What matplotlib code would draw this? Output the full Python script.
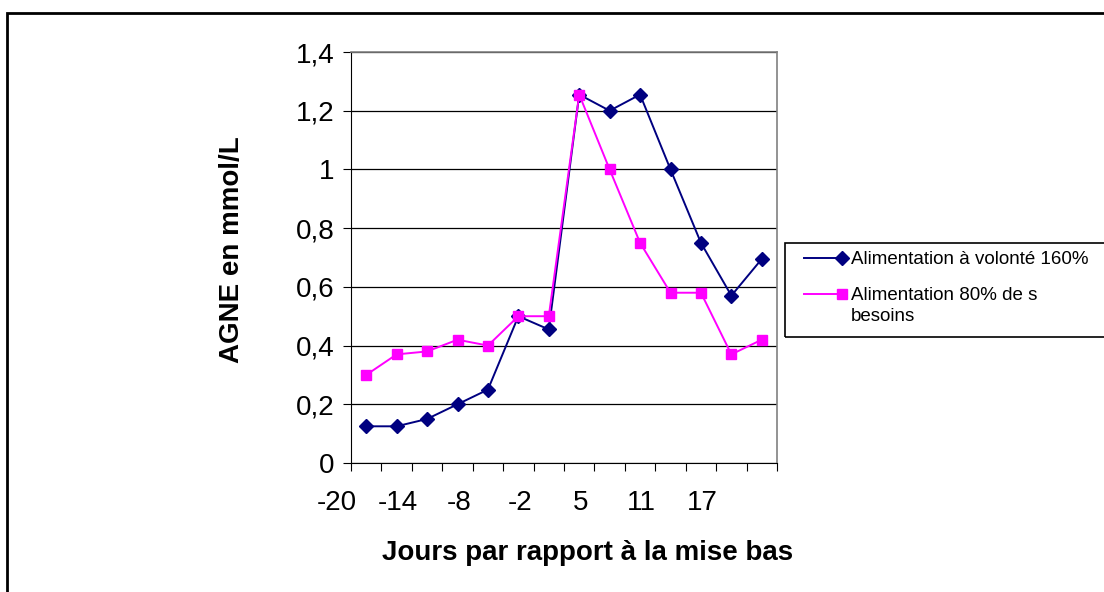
import matplotlib.pyplot as plt
import numpy as np
from matplotlib.legend_handler import HandlerLine2D
from matplotlib.patches import Rectangle
import matplotlib.transforms as mtransforms

plt.rcParams['font.family'] = ['Liberation Sans', 'DejaVu Sans']

# data
days = [-20, -17, -14, -11, -8, -5, -2, 2, 5, 8, 11, 14, 17, 20]
shown_days = [-20, -14, -8, -2, 5, 11, 17]
volonte = [0.125, 0.125, 0.15, 0.20, 0.25, 0.50, 0.455, 1.255, 1.20, 1.255, 1.00, 0.75, 0.57, 0.695]
besoins = [0.30, 0.37, 0.38, 0.42, 0.40, 0.50, 0.50, 1.255, 1.00, 0.75, 0.58, 0.58, 0.37, 0.42]
yticks = [0, 0.2, 0.4, 0.6, 0.8, 1.0, 1.2, 1.4]


class EndMarker(HandlerLine2D):
    # excel style: marker at the right end of the legend line, optional vertical shift (points)
    def __init__(self, yshift=0, **kw):
        super().__init__(**kw)
        self.yshift = yshift

    def create_artists(self, legend, orig_handle, xdescent, ydescent, width, height, fontsize, trans):
        arts = super().create_artists(legend, orig_handle, xdescent, ydescent, width, height, fontsize, trans)
        for a in arts:
            a.set_markevery([2])
            a.set_ydata(np.asarray(a.get_ydata()) + self.yshift)
        return arts


fig = plt.figure(figsize=(11.04, 5.92), dpi=100)
ax = fig.add_axes([351/1104, 1 - 463/592, (777-351)/1104, (463-52)/592])

x = np.arange(len(days))
l1, = ax.plot(x, volonte, color='#000080', lw=1.4, marker='D', ms=7, mfc='#000080', mec='#000080',
              label='Alimentation à volonté 160%')
l2, = ax.plot(x, besoins, color='#FF00FF', lw=1.4, marker='s', ms=7.5, mfc='#FF00FF', mec='#FF00FF',
              label='Alimentation 80% de s\nbesoins')

ax.set_xlim(-0.5, len(days) - 0.5)
ax.set_ylim(0, 1.4)
ax.set_yticks(yticks)
ax.set_yticklabels([('%g' % v).replace('.', ',') for v in yticks], fontsize=20)
ax.yaxis.grid(True, color='black', lw=0.9)
ax.set_axisbelow(True)

ax.set_xticks(np.arange(len(days) + 1) - 0.5)
ax.set_xticklabels([])
ax.tick_params(axis='x', direction='out', length=6, color='black')
ax.tick_params(axis='y', direction='out', length=6, color='black', pad=6)

trans = mtransforms.blended_transform_factory(ax.transData, ax.transAxes)
for i, d in enumerate(shown_days):
    ax.text(2*i - 0.95, -0.097, str(d), transform=trans, ha='center', va='center', fontsize=20)

for s in ['top', 'right']:
    ax.spines[s].set_color('#808080')
    ax.spines[s].set_linewidth(1.2)
for s in ['left', 'bottom']:
    ax.spines[s].set_color('black')

fig.text(588/1104, 1 - 553/592, 'Jours par rapport à la mise bas', ha='center', va='center',
         fontsize=20, fontweight='bold')
fig.text(232/1104, 1 - 250/592, 'AGNE en mmol/L', ha='center', va='center', rotation=90,
         fontsize=20, fontweight='bold')

leg = fig.legend(handles=[l1, l2], handler_map={l1: EndMarker(), l2: EndMarker(yshift=8.5)},
                 numpoints=1, loc='upper left', bbox_to_anchor=(804/1104, 1 - 251/592),
                 fontsize=13.5, frameon=False, handlelength=2.0,
                 handletextpad=0.5, borderpad=0, borderaxespad=0, labelspacing=1.0)
for t in leg.get_texts():
    t.set_linespacing(1.3)

# legend box, runs off the right edge like the original
fig.patches.append(Rectangle((785/1104, 1 - 337/592), 0.4, 94/592, transform=fig.transFigure,
                             fill=False, edgecolor='black', lw=1.2))

# chart area border
fig.patches.append(Rectangle((7/1104, -0.1), 1.2, 1 - 13/592 + 0.1, transform=fig.transFigure,
                             fill=False, edgecolor='black', lw=2))

fig.savefig('out.png', dpi=100)
